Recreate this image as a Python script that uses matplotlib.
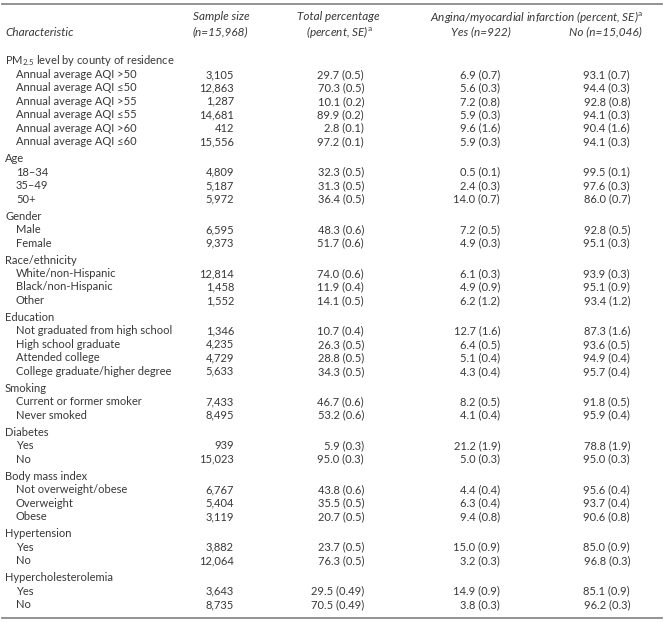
import matplotlib
matplotlib.use("Agg")
import matplotlib.pyplot as plt

plt.rcParams['font.family'] = ['Lato', 'DejaVu Sans']
plt.rcParams['mathtext.fontset'] = 'custom'
plt.rcParams['mathtext.rm'] = 'Lato'
plt.rcParams['mathtext.it'] = 'Lato:italic'

groups = [
    "PM$_{2.5}$ level by county of residence", "Age", "Gender", "Race/ethnicity",
    "Education", "Smoking", "Diabetes", "Body mass index", "Hypertension",
    "Hypercholesterolemia",
]
items = [
    ["Annual average AQI >50", "Annual average AQI \u226450", "Annual average AQI >55",
     "Annual average AQI \u226455", "Annual average AQI >60", "Annual average AQI \u226460"],
    ["18\u201334", "35\u201349", "50+"],
    ["Male", "Female"],
    ["White/non-Hispanic", "Black/non-Hispanic", "Other"],
    ["Not graduated from high school", "High school graduate", "Attended college",
     "College graduate/higher degree"],
    ["Current or former smoker", "Never smoked"],
    ["Yes", "No"],
    ["Not overweight/obese", "Overweight", "Obese"],
    ["Yes", "No"],
    ["Yes", "No"],
]
sample_size = [
    ["3,105", "12,863", "1,287", "14,681", "412", "15,556"],
    ["4,809", "5,187", "5,972"],
    ["6,595", "9,373"],
    ["12,814", "1,458", "1,552"],
    ["1,346", "4,235", "4,729", "5,633"],
    ["7,433", "8,495"],
    ["939", "15,023"],
    ["6,767", "5,404", "3,119"],
    ["3,882", "12,064"],
    ["3,643", "8,735"],
]
total_pct = [
    ["29.7 (0.5)", "70.3 (0.5)", "10.1 (0.2)", "89.9 (0.2)", "2.8 (0.1)", "97.2 (0.1)"],
    ["32.3 (0.5)", "31.3 (0.5)", "36.4 (0.5)"],
    ["48.3 (0.6)", "51.7 (0.6)"],
    ["74.0 (0.6)", "11.9 (0.4)", "14.1 (0.5)"],
    ["10.7 (0.4)", "26.3 (0.5)", "28.8 (0.5)", "34.3 (0.5)"],
    ["46.7 (0.6)", "53.2 (0.6)"],
    ["5.9 (0.3)", "95.0 (0.3)"],
    ["43.8 (0.6)", "35.5 (0.5)", "20.7 (0.5)"],
    ["23.7 (0.5)", "76.3 (0.5)"],
    ["29.5 (0.49)", "70.5 (0.49)"],
]
yes_pct = [
    ["6.9 (0.7)", "5.6 (0.3)", "7.2 (0.8)", "5.9 (0.3)", "9.6 (1.6)", "5.9 (0.3)"],
    ["0.5 (0.1)", "2.4 (0.3)", "14.0 (0.7)"],
    ["7.2 (0.5)", "4.9 (0.3)"],
    ["6.1 (0.3)", "4.9 (0.9)", "6.2 (1.2)"],
    ["12.7 (1.6)", "6.4 (0.5)", "5.1 (0.4)", "4.3 (0.4)"],
    ["8.2 (0.5)", "4.1 (0.4)"],
    ["21.2 (1.9)", "5.0 (0.3)"],
    ["4.4 (0.4)", "6.3 (0.4)", "9.4 (0.8)"],
    ["15.0 (0.9)", "3.2 (0.3)"],
    ["14.9 (0.9)", "3.8 (0.3)"],
]
no_pct = [
    ["93.1 (0.7)", "94.4 (0.3)", "92.8 (0.8)", "94.1 (0.3)", "90.4 (1.6)", "94.1 (0.3)"],
    ["99.5 (0.1)", "97.6 (0.3)", "86.0 (0.7)"],
    ["92.8 (0.5)", "95.1 (0.3)"],
    ["93.9 (0.3)", "95.1 (0.9)", "93.4 (1.2)"],
    ["87.3 (1.6)", "93.6 (0.5)", "94.9 (0.4)", "95.7 (0.4)"],
    ["91.8 (0.5)", "95.9 (0.4)"],
    ["78.8 (1.9)", "95.0 (0.3)"],
    ["95.6 (0.4)", "93.7 (0.4)", "90.6 (0.8)"],
    ["85.0 (0.9)", "96.8 (0.3)"],
    ["85.1 (0.9)", "96.2 (0.3)"],
]

W, H = 664, 622
fig = plt.figure(figsize=(W / 100, H / 100), dpi=100)
ax = fig.add_axes([0, 0, 1, 1])
ax.set_xlim(0, W)
ax.set_ylim(H, 0)
ax.axis('off')

txt = '#383838'
fs = 8
line_col = '#8a8a8a'

# rules
ax.plot([2, 662], [3.5, 3.5], color=line_col, lw=1.3)
ax.plot([2, 662], [617.5, 617.5], color=line_col, lw=1.3)

# header
hkw = dict(fontsize=8.5, color=txt, style='italic', va='center')
ax.text(5, 32, "Characteristic", ha='left', **hkw)
ax.text(221, 17, "Sample size", ha='center', **hkw)
ax.text(220, 31.5, "(n=15,968)", ha='center', **hkw)
ax.text(338, 17, "Total percentage", ha='center', **hkw)
ax.text(339, 31.5, "(percent, SE)$^{\\mathrm{a}}$", ha='center', **hkw)
ax.text(536, 17, "Angina/myocardial infarction (percent, SE)$^{\\mathrm{a}}$", ha='center', **hkw)
ax.text(481, 31.5, "Yes (n=922)", ha='center', **hkw)
ax.text(605, 31.5, "No (n=15,046)", ha='center', **hkw)

# body
step = 13.45
gap = 3.6
y = 61
kw = dict(fontsize=fs, color=txt, va='center')
for g, name in enumerate(groups):
    ax.text(5, y, name, ha='left', **kw)
    y += step
    for i, item in enumerate(items[g]):
        ax.text(16, y, item, ha='left', **kw)
        ax.text(234, y, sample_size[g][i], ha='right', **kw)
        ax.text(364, y, total_pct[g][i], ha='right', **kw)
        ax.text(500, y, yes_pct[g][i], ha='right', **kw)
        ax.text(630, y, no_pct[g][i], ha='right', **kw)
        y += step
    y += gap

fig.savefig("out.png", dpi=100)
